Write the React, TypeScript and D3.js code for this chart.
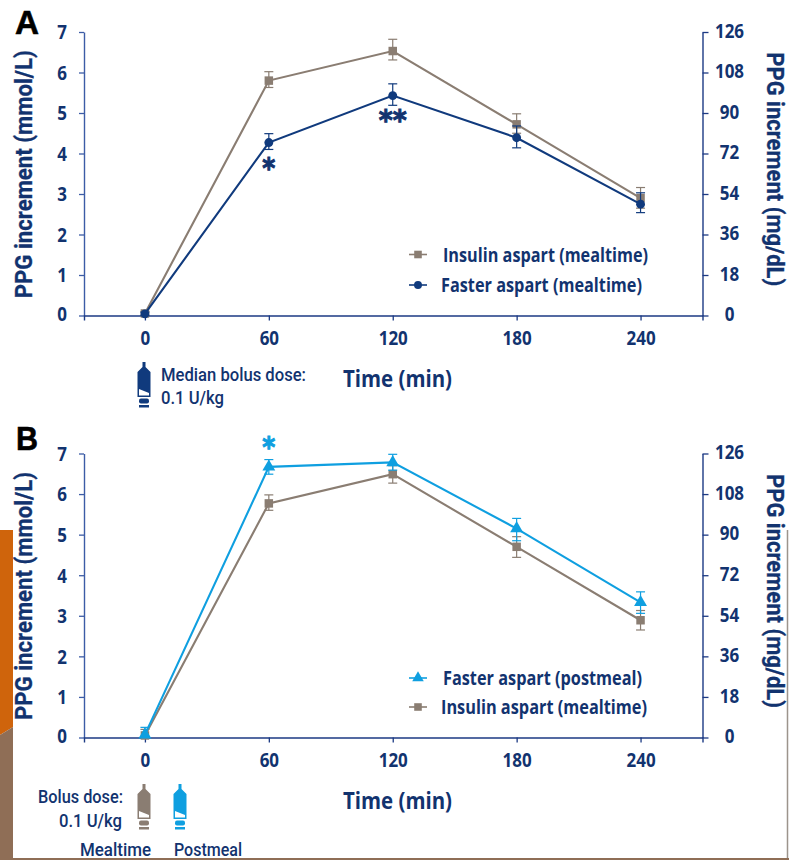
import React from "react";
import * as d3 from "d3";

// time points (min)
const times = [0, 60, 120, 180, 240];
const leftTicks = [0, 1, 2, 3, 4, 5, 6, 7];
const rightTicks = [0, 18, 36, 54, 72, 90, 108, 126];

// panel A, mmol/L
const aInsulin = [0.05, 5.8, 6.53, 4.72, 2.9];
const aInsulinHi = [0.1, 6.02, 6.82, 4.98, 3.16];
const aInsulinLo = [0, 5.63, 6.31, 4.5, 2.65];
const aFaster = [0.04, 4.27, 5.43, 4.39, 2.75];
const aFasterHi = [0.08, 4.49, 5.72, 4.68, 3.03];
const aFasterLo = [0, 4.1, 5.19, 4.14, 2.54];

// panel B, mmol/L
const bFaster = [0.07, 6.67, 6.78, 5.15, 3.33];
const bFasterHi = [0.25, 6.85, 6.98, 5.4, 3.59];
const bFasterLo = [0, 6.49, 6.59, 4.85, 3.06];
const bInsulin = [0.05, 5.77, 6.49, 4.7, 2.89];
const bInsulinHi = [0.2, 5.98, 6.7, 4.95, 3.13];
const bInsulinLo = [0, 5.6, 6.27, 4.44, 2.65];

const NAVY = "#12336f";
const LINE_NAVY = "#103a7d";
const GREY = "#8a7d72";
const CYAN = "#0f9fe0";
const FONT = "'Open Sans', 'Noto Sans', sans-serif";
const TITLE_FONT = "Roboto, 'Open Sans', sans-serif";

const xScale = d3.scaleLinear().domain([-29.5, 270]).range([84, 702.5]);

type Series = { v: number[]; hi: number[]; lo: number[]; color: string; shape: d3.SymbolType; size: number };

const insulinShape = { color: GREY, shape: d3.symbolSquare, size: 72 };
const fasterShape = { color: LINE_NAVY, shape: d3.symbolCircle, size: 62 };
const postShape = { color: CYAN, shape: d3.symbolTriangle, size: 72 };

function label(g: any, str: string, x: number, y: number, w: number, size: number, opts: any = {}) {
  // reference type is a condensed face, so squeeze to the measured width
  return g
    .append("text")
    .attr("transform", `translate(${x},${y})${opts.rotate ? ` rotate(${opts.rotate})` : ""}`)
    .attr("text-anchor", opts.anchor || "start")
    .attr("font-family", opts.family || FONT)
    .attr("font-weight", opts.weight || 700)
    .attr("font-size", size)
    .attr("fill", opts.fill || NAVY)
    .attr("stroke", opts.bold ? opts.fill || NAVY : "none")
    .attr("stroke-width", opts.bold || 0)
    .attr("textLength", w)
    .attr("lengthAdjust", "spacingAndGlyphs")
    .text(str);
}

function drawPen(g: any, cx: number, top: number, color: string) {
  const pen = g.append("g").attr("transform", `translate(${cx},${top})`);
  pen
    .append("path")
    .attr("fill", color)
    .attr("d", "M-1.5,0 L1.5,0 L1.5,5 L6.5,10 L6.5,35 L-6.5,35 L-6.5,10 L-1.5,5 Z");
  pen.append("path").attr("fill", "#fff").attr("d", "M-5,27 L5,31 L5,33.5 L-5,33.5 Z");
  pen.append("rect").attr("x", -5).attr("y", 36.5).attr("width", 10).attr("height", 5).attr("rx", 2).attr("fill", color);
  pen.append("rect").attr("x", -5).attr("y", 43).attr("width", 10).attr("height", 2.5).attr("fill", color);
}

function drawPanel(svg: any, top: number, bottom: number, series: Series[], legend: any[]) {
  const y = d3.scaleLinear().domain([0, 7]).range([bottom, top]);
  const yRight = d3.scaleLinear().domain([0, 126]).range([bottom, top]);

  const styleAxis = (g: any, color: string) => {
    g.selectAll(".domain").attr("stroke", color).attr("stroke-width", 1.4);
    g.selectAll(".tick line").attr("stroke", color).attr("stroke-width", 1.3);
    g.selectAll(".tick text")
      .attr("font-family", FONT)
      .attr("font-weight", 700)
      .attr("font-size", 20)
      .attr("fill", NAVY)
      .attr("text-anchor", "middle")
      .attr("lengthAdjust", "spacingAndGlyphs")
      .attr("textLength", (d: number) => String(d).length * 9.7);
  };

  const left = svg
    .append("g")
    .attr("transform", "translate(84,0)")
    .call(d3.axisLeft(y).tickValues(leftTicks).tickFormat(d3.format("d")).tickSize(5).tickSizeOuter(0));
  styleAxis(left, "#3c5ca6");
  left.selectAll(".tick text").attr("x", -22).attr("dy", "0.34em").attr("y", (d: number) => (d === 0 ? -2 : 0));

  const right = svg
    .append("g")
    .attr("transform", "translate(702.5,0)")
    .call(d3.axisRight(yRight).tickValues(rightTicks).tickFormat(d3.format("d")).tickSize(6).tickSizeOuter(0));
  styleAxis(right, "#1c3a84");
  right.selectAll(".tick text").attr("x", 27).attr("dy", "0.34em").attr("y", -1.5);

  const bottomAxis = svg
    .append("g")
    .attr("transform", `translate(0,${bottom})`)
    .call(d3.axisBottom(xScale).tickValues(times).tickFormat(d3.format("d")).tickSize(5).tickSizeOuter(5));
  styleAxis(bottomAxis, "#1c3a84");
  bottomAxis.selectAll(".tick text").attr("y", 23).attr("dy", "0.34em");

  const line = d3
    .line<number>()
    .x((_, i) => xScale(times[i]))
    .y((d) => y(d));

  series.forEach((s) => {
    const g = svg.append("g");
    times.forEach((t, i) => {
      const px = xScale(t);
      g.append("line").attr("x1", px).attr("x2", px).attr("y1", y(s.hi[i])).attr("y2", y(s.lo[i])).attr("stroke", s.color).attr("stroke-width", 1.2);
      [s.hi[i], s.lo[i]].forEach((e) => {
        g.append("line").attr("x1", px - 4.5).attr("x2", px + 4.5).attr("y1", y(e)).attr("y2", y(e)).attr("stroke", s.color).attr("stroke-width", 1.2);
      });
    });
    g.append("path").attr("d", line(s.v)).attr("fill", "none").attr("stroke", s.color).attr("stroke-width", 2.1);
    times.forEach((t, i) => {
      g.append("path")
        .attr("transform", `translate(${xScale(t)},${y(s.v[i])})`)
        .attr("d", d3.symbol().type(s.shape).size(s.size)())
        .attr("fill", s.color);
    });
  });

  // legend rows
  legend.forEach((row) => {
    svg.append("line").attr("x1", 409).attr("x2", 427).attr("y1", row.y).attr("y2", row.y).attr("stroke", row.s.color).attr("stroke-width", 1.6);
    svg
      .append("path")
      .attr("transform", `translate(418,${row.y})`)
      .attr("d", d3.symbol().type(row.s.shape).size(row.s.size * 0.8)())
      .attr("fill", row.s.color);
    label(svg, row.text, row.x, row.y + 7, row.w, 20);
  });

  label(svg, "PPG increment (mmol/L)", 32, (top + bottom) / 2 + 0.5, 248, 24.5, { rotate: -90, anchor: "middle", family: TITLE_FONT, bold: 0.3 });
  label(svg, "PPG increment (mg/dL)", 767, (top + bottom) / 2 - 4.5, 234, 24, { rotate: 90, anchor: "middle", family: TITLE_FONT, bold: 0.3 });
  label(svg, "Time (min)", 343, bottom + 71, 109, 24);
}

function drawBackdrop(svg: any) {
  // page furniture around the figure
  svg.append("path").attr("d", "M0,530 L13,530 L13,727 L0,735 Z").attr("fill", "#cf640c");
  svg.append("path").attr("d", "M0,735 L13,727 L13,860 L0,860 Z").attr("fill", "#8f6e56");
}

export default function App() {
  const ref = React.useRef<SVGSVGElement>(null);

  React.useEffect(() => {
    const svg = d3.select(ref.current);
    svg.selectAll("*").remove();

    drawBackdrop(svg);
    svg.append("line").attr("x1", 787.5).attr("x2", 787.5).attr("y1", 530).attr("y2", 858).attr("stroke", "#9c948c").attr("stroke-width", 1.5);

    label(svg, "A", 15, 34, 24, 33, { family: "'Liberation Sans', Arial, sans-serif", fill: "#000", bold: 0.6 });
    label(svg, "B", 16, 450, 22, 33, { family: "'Liberation Sans', Arial, sans-serif", fill: "#000", bold: 0.6 });

    const aInsulinS = { v: aInsulin, hi: aInsulinHi, lo: aInsulinLo, ...insulinShape };
    const aFasterS = { v: aFaster, hi: aFasterHi, lo: aFasterLo, ...fasterShape };
    drawPanel(svg, 32, 315.5, [aInsulinS, aFasterS], [
      { y: 254.5, text: "Insulin aspart (mealtime)", x: 443, w: 205, s: aInsulinS },
      { y: 285, text: "Faster aspart (mealtime)", x: 441, w: 201, s: aFasterS },
    ]);

    const bInsulinS = { v: bInsulin, hi: bInsulinHi, lo: bInsulinLo, ...insulinShape };
    const bFasterS = { v: bFaster, hi: bFasterHi, lo: bFasterLo, ...postShape };
    drawPanel(svg, 453.5, 737.5, [bInsulinS, bFasterS], [
      { y: 678, text: "Faster aspart (postmeal)", x: 443, w: 199, s: bFasterS },
      { y: 707, text: "Insulin aspart (mealtime)", x: 441, w: 206, s: bInsulinS },
    ]);

    // significance marks
    const star = { family: "'DejaVu Sans', sans-serif", anchor: "middle", bold: 1 };
    label(svg, "*", xScale(60), 177.5, 13, 29, star);
    label(svg, "**", xScale(120), 129.5, 28, 29, star);
    label(svg, "*", xScale(60), 457, 13, 29, { ...star, fill: CYAN });

    // dose notes
    const note = { family: TITLE_FONT, weight: 500 };
    drawPen(svg, 144, 362, LINE_NAVY);
    label(svg, "Median bolus dose:", 161, 381, 145, 19, note);
    label(svg, "0.1 U/kg", 161, 404, 63, 19, note);

    drawPen(svg, 144, 784, GREY);
    drawPen(svg, 180, 784, CYAN);
    label(svg, "Bolus dose:", 38, 803, 85, 19, note);
    label(svg, "0.1 U/kg", 59, 827, 63, 19, note);
    label(svg, "Mealtime", 80, 855.5, 71, 18, note);
    label(svg, "Postmeal", 174, 855.5, 68, 18, note);

    svg.append("rect").attr("x", 0).attr("y", 858).attr("width", 789).attr("height", 2).attr("fill", "#8f6e56");
  }, []);

  return <svg ref={ref} width={789} height={860} style={{ position: "absolute", left: 0, top: 0, background: "#fff" }} />;
}
